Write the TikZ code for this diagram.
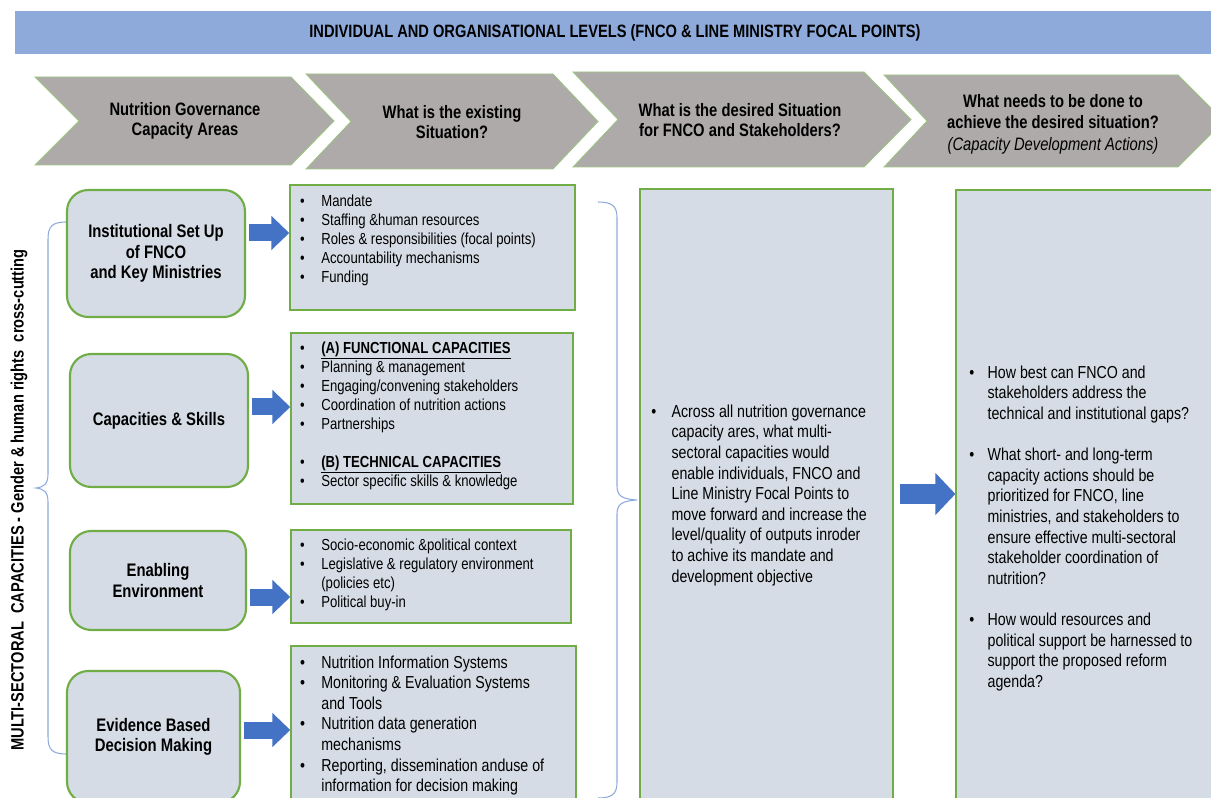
\documentclass[tikz,border=0pt]{standalone}
\usepackage{fontspec}
\setmainfont{Liberation Sans}[FakeStretch=0.82]
\usetikzlibrary{arrows.meta, fit}

\definecolor{bannerblue}{HTML}{8EAADB}
\definecolor{chevgray}{HTML}{AEAAAA}
\definecolor{boxfill}{HTML}{D6DCE5}
\definecolor{boxgreen}{HTML}{70AD47}
\definecolor{arrowblue}{HTML}{4472C4}
\definecolor{bracelight}{HTML}{8FAADC}

\newlength{\bulwd}
\newcommand{\bul}{\makebox[\bulwd][l]{\textbullet}}
\newcommand{\cont}{\makebox[\bulwd]{}}

\begin{document}
\begin{tikzpicture}[
    x=0.75pt, y=-0.75pt,
    banner/.style={fill=bannerblue, inner sep=0pt},
    bannertxt/.style={font=\bfseries\fontsize{13.4}{16}\selectfont},
    chev/.style={fill=chevgray, draw=boxgreen!70, line width=0.6pt},
    chevtxt/.style={align=center, font=\bfseries\fontsize{13.5}{15.5}\selectfont},
    areabox/.style={draw=boxgreen, line width=1.6pt, fill=boxfill, rounded corners=16pt, inner sep=0pt},
    areatxt/.style={align=center, font=\bfseries\fontsize{13.6}{15.4}\selectfont},
    listbox/.style={draw=boxgreen, line width=1.1pt, fill=boxfill, inner sep=0pt},
    listtxt/.style={align=left, inner sep=0pt, anchor=north west, font=\fontsize{12}{14.25}\selectfont\setlength{\bulwd}{16pt}},
    bigtxt/.style={align=left, inner sep=0pt, anchor=north west, font=\fontsize{13}{15.45}\selectfont\setlength{\bulwd}{15.2pt}},
    bigarrow/.style={arrowblue, line width=12.75pt, -{Triangle[length=13.5pt, width=25pt]}, shorten <=2pt},
    brace/.style={draw=bracelight, line width=0.8pt}
]
\useasboundingbox (0,0) rectangle (1211,798);
\clip (0,0) rectangle (1211,798);

% BANDEAU
\node[banner, fit={(15,11) (1215,54)}] (levels) {};
\node[bannertxt] (levelstxt) at (levels) {INDIVIDUAL AND ORGANISATIONAL LEVELS (FNCO \& LINE MINISTRY FOCAL POINTS)};

% CHEVRONS
\draw[chev] (35,77) -- (291,77) -- (334,121) -- (291,165) -- (35,165) -- (79,121) -- cycle;
\node[chevtxt] (headareas) at (185,121) {Nutrition Governance\\Capacity Areas};
\draw[chev] (306,74) -- (553,74) -- (598,121.5) -- (553,169) -- (306,169) -- (351,121.5) -- cycle;
\node[chevtxt] (headexisting) at (452,122) {What is the existing\\Situation?};
\draw[chev] (573,72) -- (864,72) -- (911,119.5) -- (864,167) -- (573,167) -- (618,119.5) -- cycle;
\node[chevtxt] (headdesired) at (740,120) {What is the desired Situation\\for FNCO and Stakeholders?};
\draw[chev] (884,75) -- (1178,75) -- (1224,121) -- (1178,167) -- (884,167) -- (927,121) -- cycle;
\node[chevtxt, font=\bfseries\fontsize{13.5}{16.2}\selectfont] (headactions) at (1053,124) {What needs to be done to\\achieve the desired situation?\\{\mdseries\itshape (Capacity Development Actions)}};

% ACCOLADES
\draw[brace] (67,222) .. controls (52,222) and (48,226) .. (48,240) -- (48,474) .. controls (48,484) and (44,487) .. (36,488) .. controls (44,489) and (48,492) .. (48,502) -- (48,736) .. controls (48,750) and (52,754) .. (67,754);
\draw[brace] (598,202) .. controls (612,202) and (617,206) .. (617,218) -- (617,486) .. controls (617,496) and (622,499) .. (637,500) .. controls (622,501) and (617,504) .. (617,514) -- (617,782) .. controls (617,794) and (612,798) .. (598,798);

\node[font=\bfseries\fontsize{13.4}{16}\selectfont, rotate=90] (crosscut) at (19,500) {MULTI-SECTORAL\ \ CAPACITIES - Gender \& human rights\ \ cross-cutting};

% COLONNE 1 (domaines)
\node[areabox, fit={(67,190) (245,317)}] (inst) {};
\node[areatxt] (insttxt) at (inst) {Institutional Set Up\\of FNCO\\and Key Ministries};
\node[areabox, fit={(70,354) (248,487)}] (skills) {};
\node[areatxt] (skillstxt) at (skills) {Capacities \& Skills};
\node[areabox, fit={(70,531) (246,630)}] (enabling) {};
\node[areatxt] (enablingtxt) at (enabling) {Enabling\\Environment};
\node[areabox, fit={(67,671) (240,803)}] (evidence) {};
\node[areatxt] (evidencetxt) at (evidence) {Evidence Based\\Decision Making};

% COLONNE 2 (situation existante)
\node[listbox, fit={(290,185) (575,310)}] (mandate) {};
\node[listtxt] (mandatetxt) at ([shift={(10.5,10)}]mandate.north west) {\bul Mandate\\\bul Staffing \&human resources\\\bul Roles \& responsibilities (focal points)\\\bul Accountability mechanisms\\\bul Funding};

\node[listbox, fit={(291,333) (573,504)}] (functional) {};
\node[listtxt] (functionaltxt) at ([shift={(9.5,9)}]functional.north west) {\bul\underline{\textbf{(A) FUNCTIONAL CAPACITIES}}\\\bul Planning \& management\\\bul Engaging/convening stakeholders\\\bul Coordination of nutrition actions\\\bul Partnerships\\[14.25pt]\bul\underline{\textbf{(B) TECHNICAL CAPACITIES}}\\\bul Sector specific skills \& knowledge};

\node[listbox, fit={(291,530) (571,623)}] (context) {};
\node[listtxt] (contexttxt) at ([shift={(9.5,9)}]context.north west) {\bul Socio-economic \&political context\\\bul Legislative \& regulatory environment\\\cont (policies etc)\\\bul Political buy-in};

\node[listbox, fit={(291,646) (576,810)}] (infosys) {};
\node[bigtxt, font=\fontsize{13}{15.45}\selectfont\setlength{\bulwd}{16pt}] (infosystxt) at ([shift={(9.5,10)}]infosys.north west) {\bul Nutrition Information Systems\\\bul Monitoring \& Evaluation Systems\\\cont and Tools\\\bul Nutrition data generation\\\cont mechanisms\\\bul Reporting, dissemination anduse of\\\cont information for decision making};

% COLONNES 3 ET 4
\node[listbox, line width=0.9pt, fit={(640,189) (893,810)}] (desiredsit) {};
\node[bigtxt] (desiredtxt) at ([shift={(11.7,216)}]desiredsit.north west) {\bul Across all nutrition governance\\\cont capacity ares, what multi-\\\cont sectoral capacities would\\\cont enable individuals, FNCO and\\\cont Line Ministry Focal Points to\\\cont move forward and increase the\\\cont level/quality of outputs inroder\\\cont to achive its mandate and\\\cont development objective};

\node[listbox, line width=0.9pt, fit={(956,190) (1220,810)}] (actions) {};
\node[bigtxt, font=\fontsize{13}{15.45}\selectfont\setlength{\bulwd}{13.7pt}] (actionstxt) at ([shift={(13.7,176)}]actions.north west) {\bul How best can FNCO and\\\cont stakeholders address the\\\cont technical and institutional gaps?\\[15.45pt]\bul What short- and long-term\\\cont capacity actions should be\\\cont prioritized for FNCO, line\\\cont ministries, and stakeholders to\\\cont ensure effective multi-sectoral\\\cont stakeholder coordination of\\\cont nutrition?\\[15.45pt]\bul How would resources and\\\cont political support be harnessed to\\\cont support the proposed reform\\\cont agenda?};

% FLECHES
\draw[bigarrow] (inst.east |- 0,233) -- (mandate.west |- 0,233);
\draw[bigarrow] (skills.east |- 0,407) -- (functional.west |- 0,407);
\draw[bigarrow] (enabling.east |- 0,597) -- (context.west |- 0,597);
\draw[bigarrow] (evidence.east |- 0,730) -- (infosys.west |- 0,730);
\draw[bigarrow, line width=15pt, -{Triangle[length=15pt, width=30.75pt]}, shorten <=5pt] (desiredsit.east |- 0,494) -- (actions.west |- 0,494);

\end{tikzpicture}
\end{document}
